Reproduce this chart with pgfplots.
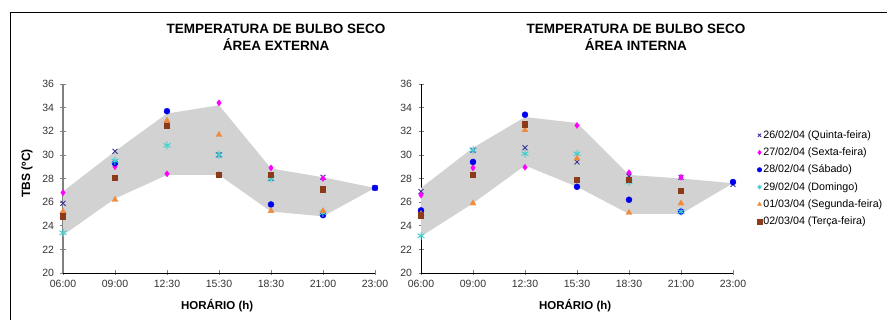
\documentclass[border=0pt]{standalone}
\usepackage{fontspec}
\setmainfont{Liberation Sans}
\usepackage{pgfplots}
\pgfplotsset{compat=1.18}
\definecolor{cX}{HTML}{333399}
\definecolor{cM}{HTML}{FF00FF}
\definecolor{cB}{HTML}{0000EE}
\definecolor{cC}{HTML}{40D0D0}
\definecolor{cO}{HTML}{F08A3C}
\definecolor{cR}{HTML}{8B3A1A}
\definecolor{band}{HTML}{D2D2D2}
\pgfplotsset{
 tbs/.style={
  scale only axis, width=312pt, height=189pt,
  xmin=0, xmax=6, ymin=20, ymax=36,
  xtick={0,...,6}, xticklabels={06:00,09:00,12:30,15:30,18:30,21:00,23:00},
  ytick={20,22,...,36},
  axis lines=left, axis line style={-, line width=0.7pt},
  tick align=center, major tick length=5pt,
  tick style={line width=0.7pt},
  /pgf/number format/assume math mode=true,
  ticklabel style={font=\fontsize{10.5}{12}\selectfont, text=black!80},
  yticklabel style={xshift=-3pt},
  xticklabel style={yshift=-1.5pt},
  clip=false,
  title style={font=\fontsize{13.5}{17}\selectfont\bfseries, align=center, anchor=base},
  xlabel style={font=\fontsize{11.5}{13}\selectfont\bfseries, at={(axis description cs:0.494,-0.175)}, anchor=center},
  legend image code/.code={\draw[#1, mark size=2.3pt] plot coordinates {(0pt,0pt)};},
 },
 mX/.style={only marks, mark=x, mark size=3.5pt, draw=cX, line width=0.9pt},
 mM/.style={only marks, mark=diamond*, mark size=3pt, draw=cM, fill=cM},
 mB/.style={only marks, mark=*, mark size=3pt, draw=cB, fill=cB},
 mC/.style={only marks, mark=asterisk, mark size=4pt, draw=cC, line width=1pt},
 mO/.style={only marks, mark=triangle*, mark size=3.4pt, draw=cO, fill=cO},
 mR/.style={only marks, mark=square*, mark size=2.6pt, draw=cR, fill=cR},
}
\begin{document}
\begin{tikzpicture}
% ---------------- Left: area externa
\begin{axis}[tbs, at={(63pt,47pt)}, anchor=south west,
  y axis line style={gray, line width=1.6pt},
  title={TEMPERATURA DE BULBO SECO\\ÁREA EXTERNA},
  title style={at={(axis description cs:0.683,1.143)}},
  xlabel={HORÁRIO (h)},
  ylabel={TBS (ºC)},
  ylabel style={font=\fontsize{12}{14}\selectfont\bfseries, at={(axis description cs:-0.115,0.527)}, anchor=center},
]
\addplot[fill=band, draw=none, forget plot] coordinates {
 (0,26.9)(1,30.3)(2,33.5)(3,34.2)(4,28.85)(5,28.1)(6,27.2)
 (5,24.8)(4,25.2)(3,28.3)(2,28.3)(1,26.3)(0,23.2)} -- cycle;
\addplot[mX] coordinates {(0,25.9)(1,30.3)(2,32.6)(3,30.0)(4,28.0)(5,28.1)(6,27.2)};
\addplot[mM] coordinates {(0,26.8)(1,29.0)(2,28.4)(3,34.4)(4,28.9)(5,28.0)};
\addplot[mB] coordinates {(0,25.0)(1,29.3)(2,33.7)(3,28.3)(4,25.8)(5,24.9)(6,27.2)};
\addplot[mC] coordinates {(0,23.4)(1,29.5)(2,30.8)(3,30.0)(4,28.0)(5,25.1)};
\addplot[mO] coordinates {(0,25.2)(1,26.2)(2,32.9)(3,31.7)(4,25.25)(5,25.25)};
\addplot[mR] coordinates {(0,24.8)(1,28.1)(2,32.5)(3,28.3)(4,28.3)(5,27.1)};
\end{axis}
% ---------------- Right: area interna
\begin{axis}[tbs, at={(421pt,47pt)}, anchor=south west,
  title={TEMPERATURA DE BULBO SECO\\ÁREA INTERNA},
  title style={at={(axis description cs:0.689,1.143)}},
  xlabel={HORÁRIO (h)},
  legend style={draw=none, fill=none, at={(axis description cs:1.077,0.765)}, anchor=north west,
    font=\fontsize{10.7}{13}\selectfont, row sep=4pt, inner sep=0pt,
    nodes={inner xsep=1.5pt}},
  legend cell align=left,
]
\addplot[fill=band, draw=none, forget plot] coordinates {
 (0,27.2)(1,30.6)(2,33.2)(3,32.7)(4,28.3)(5,28.0)(6,27.6)
 (5,25.0)(4,25.0)(3,27.3)(2,29.1)(1,25.9)(0,23.1)} -- cycle;
\addplot[mX] coordinates {(0,26.9)(1,30.4)(2,30.6)(3,29.4)(4,28.2)(5,28.1)(6,27.5)};
\addplot[mM] coordinates {(0,26.6)(1,28.9)(2,28.95)(3,32.5)(4,28.5)(5,28.1)};
\addplot[mB] coordinates {(0,25.3)(1,29.4)(2,33.4)(3,27.3)(4,26.2)(5,25.2)(6,27.7)};
\addplot[mC] coordinates {(0,23.15)(1,30.4)(2,30.1)(3,30.1)(4,27.7)(5,25.2)};
\addplot[mO] coordinates {(0,25.0)(1,25.9)(2,32.1)(3,29.7)(4,25.1)(5,25.9)};
\addplot[mR] coordinates {(0,24.9)(1,28.3)(2,32.6)(3,27.9)(4,27.9)(5,26.95)};
\legend{26/02/04 (Quinta-feira),27/02/04 (Sexta-feira),28/02/04 (Sábado),29/02/04 (Domingo),01/03/04 (Segunda-feira),02/03/04 (Terça-feira)}
\end{axis}
\draw[line width=0.9pt] (10pt,0pt) -- (10pt,307.3pt) -- (887pt,307.3pt);
\pgfresetboundingbox
\useasboundingbox (0pt,0pt) rectangle (887pt,320pt);
\end{tikzpicture}
\end{document}
